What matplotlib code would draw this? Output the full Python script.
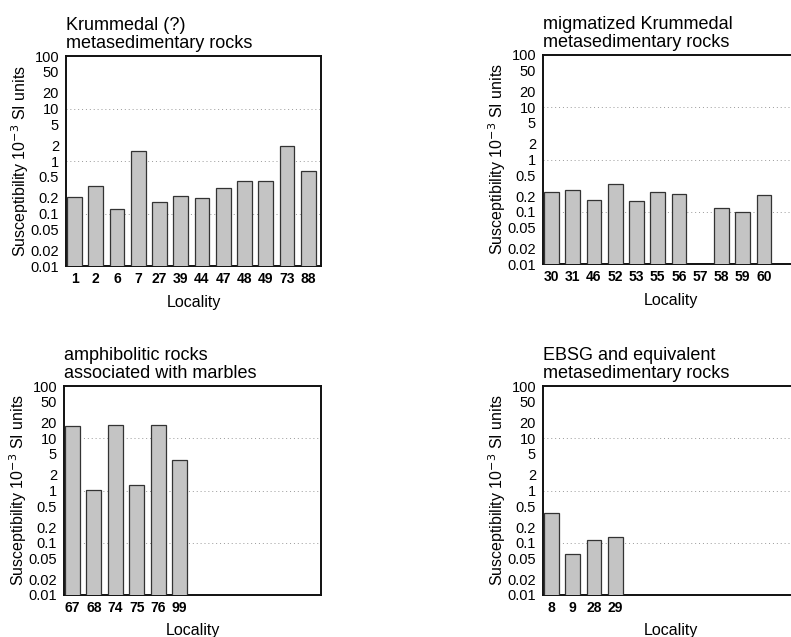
import numpy as np
import matplotlib
matplotlib.use("Agg")
import matplotlib.pyplot as plt

plt.rcParams['font.family'] = ['Liberation Sans', 'DejaVu Sans']

# ---- data ----
titles = [
    "Krummedal (?)\nmetasedimentary rocks",
    "migmatized Krummedal\nmetasedimentary rocks",
    "amphibolitic rocks\nassociated with marbles",
    "EBSG and equivalent\nmetasedimentary rocks",
]
loc_a = ["1", "2", "6", "7", "27", "39", "44", "47", "48", "49", "73", "88"]
val_a = [0.207, 0.336, 0.124, 1.54, 0.166, 0.216, 0.198, 0.312, 0.425, 0.425, 1.95, 0.65]
loc_b = ["30", "31", "46", "52", "53", "55", "56", "57", "58", "59", "60"]
val_b = [0.24, 0.258, 0.166, 0.347, 0.164, 0.24, 0.216, np.nan, 0.12, 0.10, 0.21]
loc_c = ["67", "68", "74", "75", "76", "99"]
val_c = [17.4, 1.04, 18.2, 1.29, 18.2, 3.9]
loc_d = ["8", "9", "28", "29"]
val_d = [0.368, 0.061, 0.113, 0.131]
yticks = [100, 50, 20, 10, 5, 2, 1, 0.5, 0.2, 0.1, 0.05, 0.02, 0.01]
yticklabels = ["100", "50", "20", "10", "5", "2", "1", "0.5", "0.2", "0.1", "0.05", "0.02", "0.01"]

W, H = 791, 637
fig = plt.figure(figsize=(W / 100, H / 100), dpi=100)

def px(l, t, w, h):
    return [l / W, 1 - (t + h) / H, w / W, h / H]

boxes = [px(66, 56, 255, 210), px(543, 55, 255, 209),
         px(64, 386, 257, 209), px(543, 386, 255, 209)]
locs = [loc_a, loc_b, loc_c, loc_d]
vals = [val_a, val_b, val_c, val_d]
xpads = [7, 7, 6, 6]

for box, title, loc, val, xp in zip(boxes, titles, locs, vals, xpads):
    ax = fig.add_axes(box)
    ax.set_yscale('log')
    ax.set_ylim(0.01, 100)
    ax.set_xlim(0, 12)
    x = np.arange(len(loc)) + 0.05
    ax.bar(x, val, width=0.7, align='edge', bottom=0.0,
           color='#c4c4c4', edgecolor='#333333', linewidth=0.9, zorder=3)
    for g in [0.1, 1, 10]:
        ax.axhline(g, color='#999999', linestyle=(0, (1, 3)), linewidth=0.7, zorder=1)
    ax.set_yticks(yticks)
    ax.set_yticklabels(yticklabels, fontsize=10.5)
    ax.yaxis.set_minor_locator(matplotlib.ticker.NullLocator())
    ax.set_xticks(x + 0.35)
    ax.set_xticklabels(loc, fontsize=10, fontweight='bold')
    ax.tick_params(axis='y', length=0, pad=5)
    ax.tick_params(axis='x', length=0, pad=4)
    for s in ax.spines.values():
        s.set_linewidth(1.4)
        s.set_color('#111111')
    ax.set_xlabel("Locality", fontsize=11.5, labelpad=xp)
    ax.set_ylabel("Susceptibility 10$^{-3}$ SI units", fontsize=11.5, labelpad=-0.5)
    ax.set_title(title, loc='left', fontsize=13, pad=6, linespacing=1.05)

fig.savefig("out.png", dpi=100)
